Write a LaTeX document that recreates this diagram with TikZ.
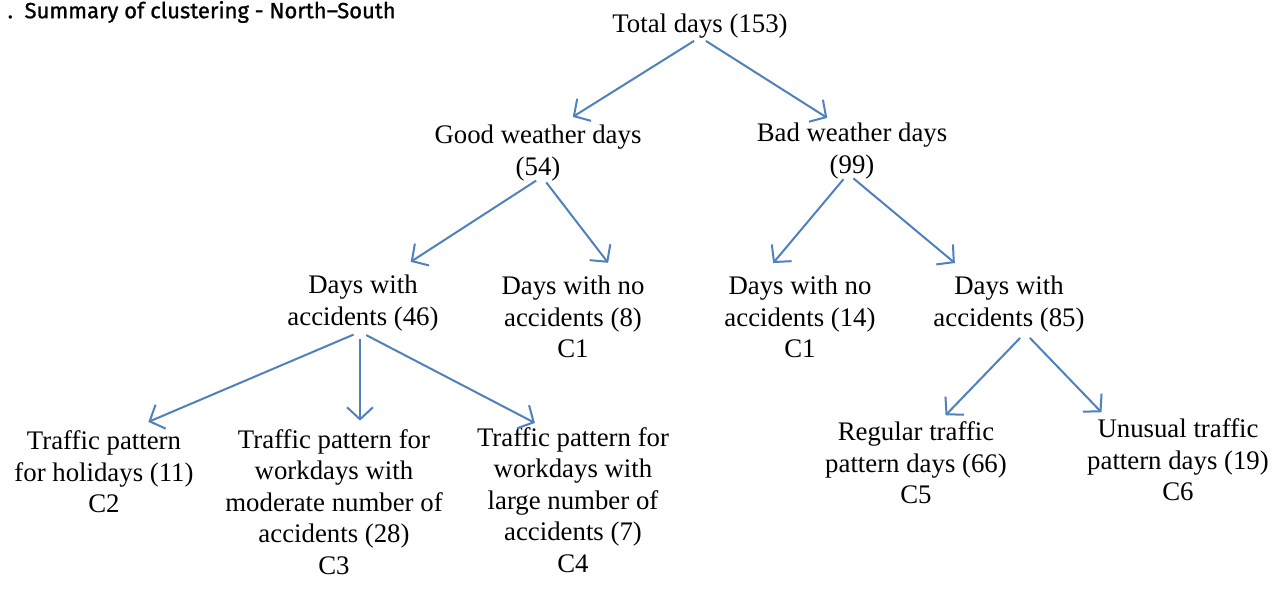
\documentclass[tikz,border=0pt]{standalone}
\usepackage{fontspec}
\setmainfont{Liberation Serif}
\newfontfamily\capfont{Fira Sans}[FakeBold=1]
\usetikzlibrary{arrows.meta}
\definecolor{treeblue}{RGB}{79,129,189}

\begin{document}
\begin{tikzpicture}[x=0.5pt,y=-0.5pt,shorten >=4pt,shorten <=3.5pt,->,>={Straight Barb[length=6pt,width=13pt]},line width=1pt,align=center,
  leaf/.style={inner sep=0pt,font=\fontsize{13.4}{15.7}\selectfont}]
        \useasboundingbox[fill=white] (0,0) rectangle (1275,593);
        \node[anchor=west,font=\capfont\fontsize{11}{12}\selectfont] (title) at (0,12) {.\ \ Summary of clustering - North–South};

        \node[leaf] (total) at (700,26) {Total days (153)};
        \node[leaf] (good) at (538,153) {Good weather days\\(54)};
        \node[leaf] (bad) at (852,151) {Bad weather days\\(99)};
        \node[leaf] (dwa1) at (363,303) {Days with\\accidents (46)};
        \node[leaf] (dna1) at (573,317) {Days with no\\accidents (8)\\C1};
        \node[leaf] (dna2) at (800,317) {Days with no\\accidents (14)\\C1};
        \node[leaf] (dwa2) at (1009,304) {Days with\\accidents (85)};
        \node[leaf] (c2) at (104,472) {Traffic pattern\\for holidays (11)\\C2};
        \node[leaf] (c3) at (334,502) {Traffic pattern for\\workdays with\\moderate number of\\accidents (28)\\C3};
        \node[leaf] (c4) at (573,500) {Traffic pattern for\\workdays with\\large number of\\accidents (7)\\C4};
        \node[leaf] (c5) at (916,463) {Regular traffic\\pattern days (66)\\C5};
        \node[leaf] (c6) at (1178,460) {Unusual traffic\\pattern days (19)\\C6};

        \path[->,color=treeblue] ([yshift=1pt]total.south) edge ([xshift=14pt,yshift=1.5pt]good.north)
                                                           edge ([xshift=-9pt]bad.north)
                  ([xshift=2pt,yshift=2.5pt]good.south) edge ([xshift=20.5pt,yshift=4pt]dwa1.north)
                                                       edge ([xshift=20pt,yshift=3pt]dna1.north)
                  ([xshift=-2pt,yshift=3pt]bad.south) edge ([xshift=-16pt,yshift=3pt]dna2.north)
                                                     edge ([xshift=-24pt,yshift=3.5pt]dwa2.north)
                  ([xshift=-1.5pt]dwa1.south) edge ([xshift=18.5pt,yshift=2.5pt]c2.north)
                                              edge ([xshift=13pt]c3.north)
                                              edge ([xshift=-15.5pt]c4.north)
                  ([xshift=8pt]dwa2.south) edge ([xshift=12pt]c5.north)
                                           edge ([xshift=-35.5pt]c6.north);
\end{tikzpicture}
\end{document}
